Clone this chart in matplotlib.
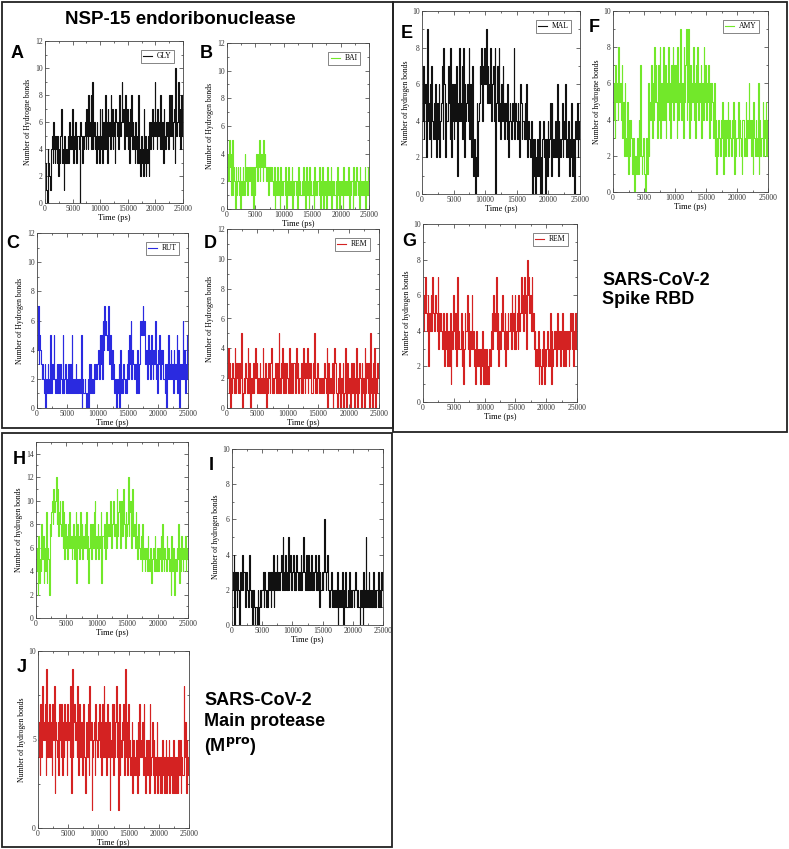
import numpy as np
import matplotlib
matplotlib.use("Agg")
import matplotlib.pyplot as plt
from matplotlib.patches import Rectangle
from matplotlib.ticker import MultipleLocator

plt.rcParams['font.family'] = 'serif'
plt.rcParams['font.serif'] = ['Liberation Serif', 'DejaVu Serif']

# hydrogen bond counts, one character per 125 ps (hex digit)
gly_hb = ("32104321" "34536435" "43524357" "34315343" "45364547" "43546345" "54065435"
          "45647548" "56849456" "45364537" "54736548" "46375648" "57465376" "56487569"
          "67548657" "46375846" "45364538" "34253427" "35243526" "46574659" "56475648"
          "45637546" "56478568" "54673a56" "69574865")
bai_hb = ("24253415" "13203123" "21302132" "14231323" "23132031" "34243524" "34253432"
          "23132323" "21302123" "12031212" "21302132" "12130212" "21203121" "12131203"
          "21203121" "12031212" "21302130" "12120312" "21302121" "12031202" "21203121"
          "12130212" "20312132" "12031212" "21302132")
rut_hb = ("47354323" "21302132" "15213252" "12313123" "21512312" "13213152" "12132121"
          "21502112" "10120313" "21213232" "34253526" "47565474" "35242312" "10213041"
          "21321213" "42536243" "32312413" "46567563" "34253425" "32436231" "43524342"
          "21303252" "34231423" "25140232" "36241325")
rem_nsp_hb = ("24130213" "21413213" "13250121" "32141302" "21312423" "12131214" "21302132"
              "13412123" "21315213" "24131232" "12413213" "32142312" "21314213" "24132321"
              "13251213" "21121213" "32140312" "21301432" "10213021" "30142031" "12032130"
              "21402132" "03120413" "21305120" "31402132")
mal_hb = ("47356294" "53627435" "36253624" "57386254" "47538264" "36471548" "45738264"
          "56483627" "41302514" "57684768" "69576584" "56748057" "48536475" "35436245"
          "43548354" "35426534" "43536243" "32403130" "21314020" "34230314" "23515232"
          "43261432" "35243623" "24132513" "20435243")
amy_hb = ("46375648" "56473526" "32514243" "21301213" "14272123" "10231625" "47364857"
          "53748364" "58473658" "46375847" "57384659" "46385794" "59374658" "46375846"
          "57364857" "46573646" "53624132" "43243514" "32435243" "24351423" "35243214"
          "42352436" "34241532" "43261423" "35243524")
rem_rbd_hb = ("46575462" "54647546" "65473545" "43524352" "34251436" "43527343" "35241354"
              "46352436" "34231423" "23132413" "21312132" "45364547" "35243546" "43524354"
              "45364536" "34536457" "56475638" "67564745" "34232413" "21324132" "34232514"
              "23434253" "34243524" "32434235" "43524353")
h_mpro_hb = ("46273548" "57364936" "52879a8b" "9ac8b79a" "87a69586" "75869675" "68579386"
             "75968576" "86957368" "75869a57" "68576937" "76859678" "79a68a97" "86b79a86"
             "a79b8697" "8c79a6b8" "78697586" "65748564" "56475463" "45647546" "54657485"
             "46547564" "52746325" "46583647" "54657465")
i_mpro_hb = ("23403213" "20132423" "31232134" "21202101" "10201212" "23132121" "32313241"
             "23242323" "34253242" "32523423" "34232432" "23242353" "32423423" "24232342"
             "32413223" "23632342" "21231212" "12130212" "21302131" "12131212" "21232121"
             "10212031" "25121312" "12131212" "21312132")
j_mpro_hb = ("46374856" "57394647" "46375826" "54637547" "36475637" "56482946" "75648376"
             "46357425" "64738561" "45637546" "57463748" "46357461" "54737468" "46173546"
             "57394637" "45346253" "43526374" "54637425" "43527346" "35243624" "32425342"
             "45243524" "34252342" "42535243" "38462534")

BLACK, GREEN, BLUE, RED = '#111111', '#72e82a', '#2a2ae0', '#d42222'

W, H = 789, 849
fig = plt.figure(figsize=(W / 100, H / 100), dpi=100)


def px_axes(xl, yt, xr, yb):
    return fig.add_axes([xl / W, 1 - yb / H, (xr - xl) / W, (yb - yt) / H])


def panel(box, series, color, legend, ylim, ymaj, ylabel):
    ax = px_axes(*box)
    vals = np.array([int(c, 16) for c in series])
    t = np.arange(len(vals)) * 25000 / len(vals)
    ax.plot(t, vals, color=color, lw=0.8, drawstyle='steps-post')
    ax.set_xlim(0, 25000)
    ax.set_ylim(*ylim)
    ax.xaxis.set_major_locator(MultipleLocator(5000))
    ax.xaxis.set_minor_locator(MultipleLocator(2500))
    ax.yaxis.set_major_locator(MultipleLocator(ymaj))
    ax.yaxis.set_minor_locator(MultipleLocator(ymaj / 2))
    ax.tick_params(which='both', direction='in', top=True, right=True,
                   labelsize=5.5, width=0.5, pad=1.5, colors='#333333')
    ax.tick_params(which='major', length=3)
    ax.tick_params(which='minor', length=1.5)
    for s in ax.spines.values():
        s.set_linewidth(0.6)
        s.set_color('#444444')
    ax.set_xlabel('Time (ps)', fontsize=6, labelpad=0.5)
    ax.set_ylabel(ylabel, fontsize=5.5, labelpad=2)
    if legend:
        leg = ax.legend([legend], loc='upper right', fontsize=5.5, handlelength=1.2,
                        fancybox=False, edgecolor='#555555', framealpha=1,
                        borderpad=0.3, handletextpad=0.6, borderaxespad=1.2)
        leg.get_frame().set_linewidth(0.5)
    return ax


HB = 'Number of Hydrogen bonds'
hb = 'Number of hydrogen bonds'
panel((45, 41, 183, 203), gly_hb, BLACK, 'GLY', (0, 12), 2, 'Number of Hydrogne bonds')
panel((227, 43, 369, 209), bai_hb, GREEN, 'BAI', (0, 12), 2, HB)
panel((37, 233, 188, 408), rut_hb, BLUE, 'RUT', (0, 12), 2, HB)
panel((227, 229, 379, 408), rem_nsp_hb, RED, 'REM', (0, 12), 2, HB)
panel((422, 11, 580, 194), mal_hb, BLACK, 'MAL', (0, 10), 2, hb)
panel((613, 11, 768, 192), amy_hb, GREEN, 'AMY', (0, 10), 2, 'Number of hydrogne bonds')
panel((423, 224, 577, 402), rem_rbd_hb, RED, 'REM', (0, 10), 2, hb)
panel((36, 442, 188, 618), h_mpro_hb, GREEN, None, (0, 15), 2, hb)
panel((232, 449, 383, 625), i_mpro_hb, BLACK, None, (0, 10), 2, hb)
panel((38, 651, 189, 828), j_mpro_hb, RED, None, (0, 10), 5, hb)

# section frames
for (x0, y0, x1, y1) in [(2, 2, 393, 428), (393, 2, 787, 432), (2, 433, 392, 847)]:
    fig.patches.append(Rectangle((x0 / W, 1 - y1 / H), (x1 - x0) / W, (y1 - y0) / H,
                                 transform=fig.transFigure, fill=False,
                                 edgecolor='#222222', linewidth=1.3))

sans = dict(family='Liberation Sans', weight='bold', color='black')
fig.text(180 / W, 1 - 20 / H, 'NSP-15 endoribonuclease', ha='center', va='center',
         fontsize=13.5, **sans)
for lab, x, y in [('A', 11, 54), ('B', 200, 54), ('C', 6, 243), ('D', 204, 243),
                  ('E', 401, 33), ('F', 589, 28), ('G', 402, 242), ('H', 13, 460),
                  ('I', 209, 465), ('J', 17, 667)]:
    fig.text(x / W, 1 - y / H, lab, ha='left', va='center', fontsize=13, **sans)

fig.text(602 / W, 1 - 290 / H, 'SARS-CoV-2\nSpike RBD', ha='left', va='center',
         fontsize=13, linespacing=1.15, **sans)
fig.text(204 / W, 1 - 725 / H, 'SARS-CoV-2\nMain protease\n(M$^{\\mathbf{pro}}$)',
         ha='left', va='center', fontsize=13, linespacing=1.3, **sans)

fig.savefig('out.png', dpi=100)
